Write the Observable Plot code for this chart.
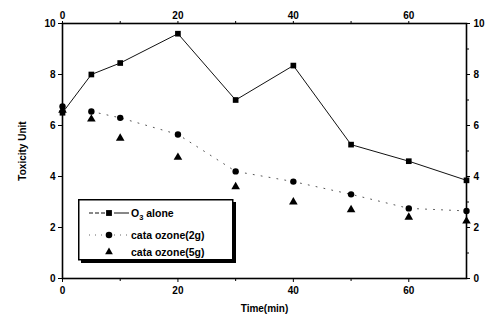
<!DOCTYPE html>
<html>
<head>
<meta charset="utf-8">
<script src="https://cdn.jsdelivr.net/npm/d3@7"></script>
<script src="https://cdn.jsdelivr.net/npm/@observablehq/plot@0.6"></script>
<style>
  html, body { margin: 0; padding: 0; background: white; }
  #wrap { position: relative; width: 486px; height: 322px; }
  #legend { position: absolute; left: 78px; top: 199px; }
</style>
</head>
<body>
<div id="wrap"></div>
<script>
const time = [0, 5, 10, 20, 30, 40, 50, 60, 70];
const o3Alone = [6.5, 8.0, 8.45, 9.6, 7.0, 8.35, 5.25, 4.6, 3.85];
const cata2g = [6.75, 6.55, 6.3, 5.65, 4.2, 3.8, 3.3, 2.75, 2.65];
const cata5g = [6.6, 6.25, 5.5, 4.75, 3.6, 3.0, 2.7, 2.4, 2.25];
const seriesNames = ["O\u2083 alone", "cata ozone(2g)", "cata ozone(5g)"];
const xTicks = [0, 20, 40, 60];
const xMinor = [10, 30, 50];
const yTicks = [0, 2, 4, 6, 8, 10];
const yMinor = [1, 3, 5, 7, 9];

const rows = (ys) => time.map((t, i) => ({t, v: ys[i]}));
const d1 = rows(o3Alone), d2 = rows(cata2g), d3s = rows(cata5g);
const blank = () => "";

const chart = Plot.plot({
  width: 486, height: 322,
  marginLeft: 62, marginRight: 20, marginTop: 23, marginBottom: 44,
  x: {domain: [0, 70]},
  y: {domain: [0, 10]},
  style: {fontFamily: "'Liberation Sans', Arial, sans-serif", fontSize: "10px", fontWeight: "bold", background: "white", color: "black"},
  marks: [
    Plot.frame({stroke: "black", strokeWidth: 1.6}),
    Plot.axisX({anchor: "bottom", ticks: xTicks, tickSize: 4, tickPadding: 4, label: "Time(min)", labelAnchor: "center", labelOffset: 33, labelArrow: "none", fontSize: 10}),
    Plot.axisX({anchor: "bottom", ticks: xMinor, tickSize: 3, tickFormat: blank, label: null}),
    Plot.axisX({anchor: "top", ticks: xTicks, tickSize: 3, tickPadding: 2, label: null}),
    Plot.axisX({anchor: "top", ticks: xMinor, tickSize: 3, tickFormat: blank, label: null}),
    Plot.axisY({anchor: "left", ticks: yTicks, tickSize: 4, tickPadding: 3, label: "Toxicity Unit", labelAnchor: "center", labelOffset: 44, labelArrow: "none"}),
    Plot.axisY({anchor: "right", ticks: yTicks, tickSize: 3, tickPadding: 4, label: null}),
    Plot.axisY({anchor: "right", ticks: yMinor, tickSize: 2, tickFormat: blank, label: null}),
    Plot.line(d1, {x: "t", y: "v", stroke: "#111", strokeWidth: 1}),
    Plot.line(d2.slice(1), {x: "t", y: "v", stroke: "#555", strokeWidth: 1, strokeDasharray: "1,7"}),
    Plot.dot(d3s, {x: "t", y: "v", symbol: "triangle", r: 3.2, fill: "black"}),
    Plot.dot(d2, {x: "t", y: "v", symbol: "circle", r: 3.2, fill: "black"}),
    Plot.dot(d1, {x: "t", y: "v", symbol: "square", r: 3.2, fill: "black"})
  ]
});
document.getElementById("wrap").appendChild(chart);

// legend overlay
const lg = d3.select("#wrap").append("svg").attr("id", "legend")
  .attr("width", 162).attr("height", 68)
  .style("font-family", "'Liberation Sans', Arial, sans-serif")
  .style("font-weight", "bold");
lg.append("rect").attr("x", 3).attr("y", 3).attr("width", 155).attr("height", 61).attr("fill", "black");
lg.append("rect").attr("x", 0.75).attr("y", 0.75).attr("width", 154).attr("height", 60).attr("fill", "white").attr("stroke", "black").attr("stroke-width", 1.5);
const rowY = [14, 36, 53];
const sym = [d3.symbolSquare, d3.symbolCircle, d3.symbolTriangle];
const dash = ["4,2", "1,5", null];
seriesNames.forEach((name, i) => {
  const g = lg.append("g").attr("transform", `translate(0,${rowY[i]})`);
  if (dash[i]) {
    g.append("line").attr("x1", 11).attr("x2", 27).attr("stroke", i === 0 ? "#111" : "#666").attr("stroke-dasharray", dash[i]);
    g.append("line").attr("x1", 36).attr("x2", 51).attr("stroke", i === 0 ? "#111" : "#666").attr("stroke-dasharray", i === 0 ? null : dash[i]);
  }
  g.append("path").attr("transform", "translate(31,0)").attr("d", d3.symbol(sym[i], i === 2 ? 26 : 34)()).attr("fill", "black");
  const t = g.append("text").attr("x", 53).attr("y", 4).attr("font-size", 10.5);
  if (i === 0) {
    t.append("tspan").text("O");
    t.append("tspan").attr("font-size", 7.5).attr("dy", 3).text("3");
    t.append("tspan").attr("dy", -3).text(" alone");
  } else t.text(name);
});
</script>
</body>
</html>
